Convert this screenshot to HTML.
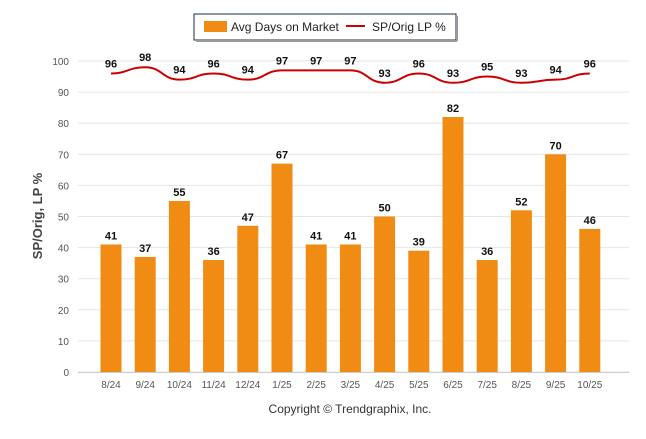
<!DOCTYPE html>
<html><head><meta charset="utf-8"><style>
body{margin:0;background:#fff;font-family:"Liberation Sans",sans-serif}
svg text{font-family:"Liberation Sans",sans-serif}
</style></head><body>
<svg id="c" width="646" height="434">
<g>
<rect x="194" y="14" width="262" height="26" fill="#fff" stroke="#1c2b4a" stroke-width="1"/>
<line x1="196" y1="41" x2="457" y2="41" stroke="#999" stroke-width="2"/>
<line x1="457" y1="16" x2="457" y2="41" stroke="#999" stroke-width="2"/>
<rect x="204" y="21" width="23" height="11" fill="#f08c14"/>
<text x="231" y="31" font-size="12" fill="#222">Avg Days on Market</text>
<line x1="346" y1="26" x2="365" y2="26" stroke="#cc0000" stroke-width="2"/>
<text x="372" y="31" font-size="12" fill="#222">SP/Orig LP %</text>
</g>
<text transform="translate(42,216) rotate(-90)" text-anchor="middle" font-size="13" font-weight="bold" fill="#444">SP/Orig, LP %</text>
<g id="grid"></g><g id="bars"></g><g id="line"></g>
<text x="350" y="413" text-anchor="middle" font-size="12" fill="#333">Copyright © Trendgraphix, Inc.</text>
</svg>
<script>
const categories=["8/24","9/24","10/24","11/24","12/24","1/25","2/25","3/25","4/25","5/25","6/25","7/25","8/25","9/25","10/25"];
const daysOnMarket=[41,37,55,36,47,67,41,41,50,39,82,36,52,70,46];
const spOrigLp=[96,98,94,96,94,97,97,97,93,96,93,95,93,94,96];
const yTicks=[0,10,20,30,40,50,60,70,80,90,100];
const NS="http://www.w3.org/2000/svg";
const y=v=>372-v*3.11;
const x=i=>111+i*34.2;
function mk(p,t,a){const e=document.createElementNS(NS,t);for(const k in a)e.setAttribute(k,a[k]);p.appendChild(e);return e;}
const grid=document.getElementById('grid'),bars=document.getElementById('bars'),line=document.getElementById('line');
yTicks.forEach(v=>{
 const l=mk(grid,'line',{x1:78,x2:629,y1:y(v),y2:y(v),stroke:'#e6e6e6'});
 
 
 const t=mk(grid,'text',{x:69,y:y(v)+4,'text-anchor':'end','font-size':10,fill:'#555'});t.textContent=v;
 
 
});
mk(grid,'line',{x1:78,x2:629,y1:372.5,y2:372.5,stroke:'#ccc'});
categories.forEach((c,i)=>{
 const r=mk(bars,'rect',{x:x(i)-10.5,y:y(daysOnMarket[i]),width:21,height:372-y(daysOnMarket[i]),fill:'#f08c14'});
 
 
 const v=mk(bars,'text',{x:x(i),y:y(daysOnMarket[i])-5,'text-anchor':'middle','font-size':11,'font-weight':'bold',fill:'#111'});v.textContent=daysOnMarket[i];
 
 
 const t=mk(bars,'text',{x:x(i),y:388,'text-anchor':'middle','font-size':10,fill:'#555'});t.textContent=c;
 
 
});
let d='';const pts=spOrigLp.map((v,i)=>[x(i),y(v)]);
pts.forEach((p,i)=>{if(i==0){d='M'+p[0]+' '+p[1];return;}const q=pts[i-1],dx=(p[0]-q[0])/2;d+=` C${q[0]+dx} ${q[1]} ${p[0]-dx} ${p[1]} ${p[0]} ${p[1]}`;});
const path=mk(line,'path',{d:d,fill:'none',stroke:'#cc0000','stroke-width':2});


spOrigLp.forEach((v,i)=>{
 const t=mk(line,'text',{x:x(i),y:y(v)-6,'text-anchor':'middle','font-size':11,'font-weight':'bold',fill:'#111'});t.textContent=v;
 
 
});
</script>
</body></html>
